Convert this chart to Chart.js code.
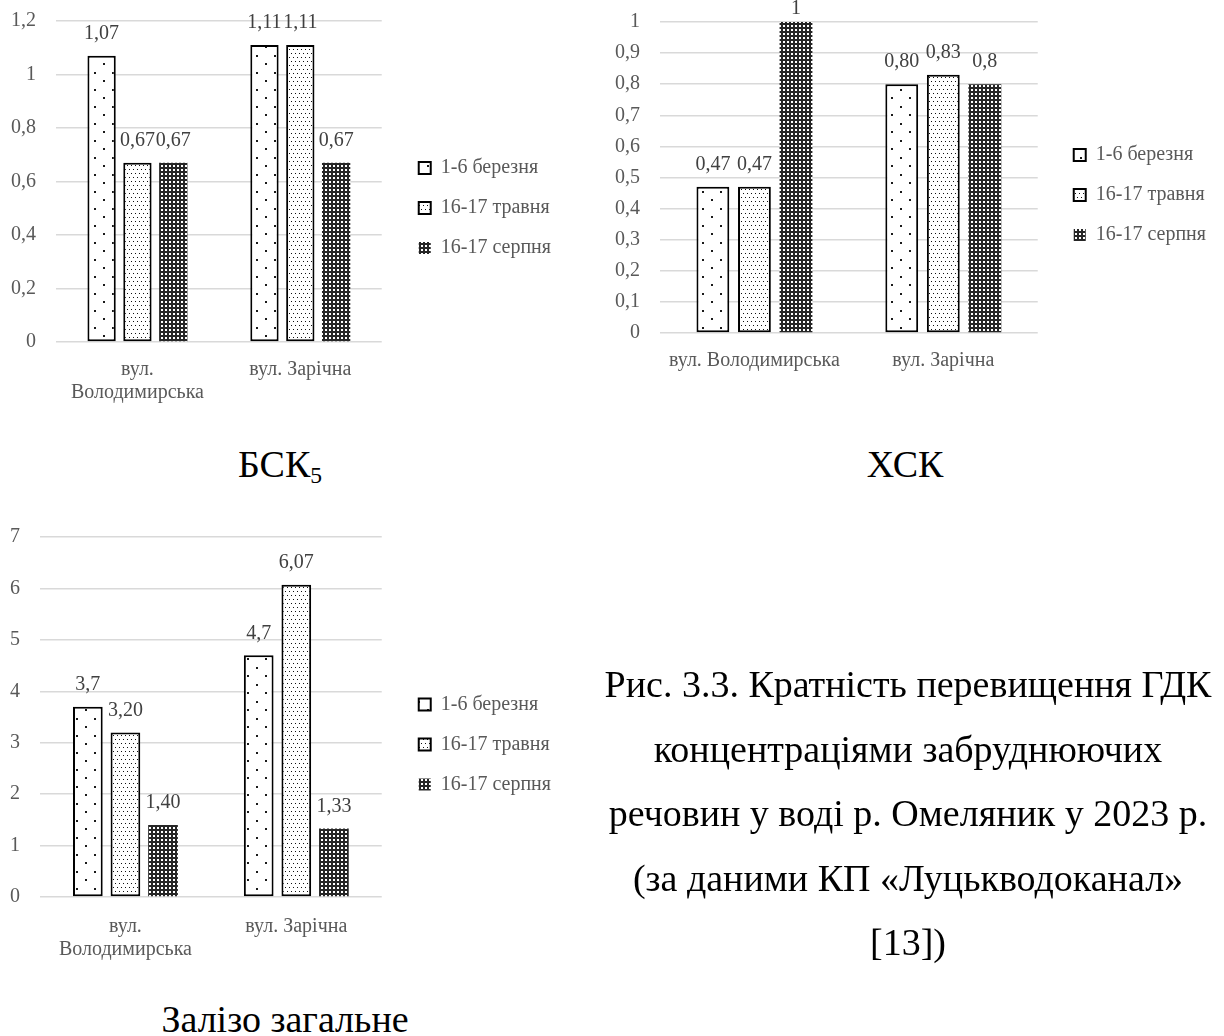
<!DOCTYPE html>
<html lang="uk">
<head>
<meta charset="utf-8">
<title>Кратність перевищення ГДК</title>
<script src="https://cdn.jsdelivr.net/npm/chart.js@4.4.1/dist/chart.umd.min.js"></script>
<style>
  html, body { margin: 0; padding: 0; background: #fff; }
  body { width: 1224px; height: 1036px; position: relative; overflow: hidden;
         font-family: 'Liberation Serif', 'Times New Roman', serif; }
  canvas { position: absolute; }
  .cap { position: absolute; color: #000; font-size: 38px; line-height: 1; white-space: nowrap; text-align: center; }
  .cap sub { font-size: 62%; vertical-align: -0.25em; line-height: 0; }
  #note { line-height: 64.5px; }
</style>
</head>
<body>
<canvas id="bsk" width="580" height="410" style="left:0;top:0"></canvas>
<canvas id="xsk" width="634" height="383" style="left:590px;top:0"></canvas>
<canvas id="iron" width="580" height="457" style="left:0;top:510px"></canvas>

<div class="cap" style="left:180px;top:445px;width:200px">БСК<sub>5</sub></div>
<div class="cap" style="left:805px;top:445px;width:200px">ХСК</div>
<div class="cap" style="left:135px;top:1000px;width:300px">Залізо загальне</div>
<div class="cap" id="note" style="left:568px;top:652px;width:680px">Рис. 3.3. Кратність перевищення ГДК<br>концентраціями забруднюючих<br>речовин у воді р. Омеляник у 2023 р.<br>(за даними КП «Луцькводоканал»<br>[13])</div>

<script>
// categories and series
var streets = [['вул.', 'Володимирська'], 'вул. Зарічна'];
var streetsOneLine = ['вул. Володимирська', 'вул. Зарічна'];
var seriesNames = ['1-6 березня', '16-17 травня', '16-17 серпня'];

// БСК5
var bskMarch = [1.07, 1.11];
var bskMay = [0.67, 1.11];
var bskAug = [0.67, 0.67];
var bskText = [['1,07', '1,11'], ['0,67', '1,11'], ['0,67', '0,67']];

// ХСК
var xskMarch = [0.47, 0.80];
var xskMay = [0.47, 0.83];
var xskAug = [1, 0.8];
var xskText = [['0,47', '0,80'], ['0,47', '0,83'], ['1', '0,8']];

// Залізо загальне
var ironMarch = [3.7, 4.7];
var ironMay = [3.2, 6.07];
var ironAug = [1.4, 1.33];
var ironText = [['3,7', '4,7'], ['3,20', '6,07'], ['1,40', '1,33']];

var serif = "'Liberation Serif', 'Times New Roman', serif";
Chart.defaults.font.family = serif;
Chart.defaults.font.size = 20;
Chart.defaults.color = '#595959';

// little tiles for the Excel-like fill patterns
function tile(w, h, paint) {
  var c = document.createElement('canvas');
  c.width = w;
  c.height = h;
  var ctx = c.getContext('2d');
  paint(ctx, w, h);
  return ctx.createPattern(c, 'repeat');
}

var fills = [
  tile(18, 17, function (ctx, w, h) {
    ctx.fillStyle = '#fff';
    ctx.fillRect(0, 0, w, h);
    ctx.fillStyle = '#1a1a1a';
    ctx.fillRect(4, 4, 2, 2);
    ctx.fillRect(13, 12, 2, 2);
  }),
  tile(4, 8, function (ctx, w, h) {
    ctx.fillStyle = '#fff';
    ctx.fillRect(0, 0, w, h);
    ctx.fillStyle = '#111';
    ctx.fillRect(1, 1, 1, 1);
    ctx.fillRect(3, 5, 1, 1);
  }),
  tile(4, 4, function (ctx, w, h) {
    ctx.fillStyle = '#262626';
    ctx.fillRect(0, 0, w, h);
    ctx.fillStyle = '#fff';
    ctx.fillRect(1, 1, 2, 2);
  })
];

function fmt(v) {
  return String(Math.round(v * 100) / 100).replace('.', ',');
}

// legend box width as chart.js computes it (padding + box + gap + text + 10)
var measure = document.createElement('canvas').getContext('2d');
measure.font = '20px ' + serif;
var longest = Math.max.apply(null, seriesNames.map(function (s) { return measure.measureText(s).width; }));
var legendWidth = Math.ceil(20 + 12 + 10 + longest + 10);

// numbers above the bars
var valueLabels = {
  id: 'valueLabels',
  afterDatasetsDraw: function (chart) {
    var ctx = chart.ctx;
    ctx.save();
    ctx.font = '20px ' + serif;
    ctx.fillStyle = '#404040';
    ctx.textAlign = 'center';
    ctx.textBaseline = 'middle';
    chart.data.datasets.forEach(function (ds, i) {
      chart.getDatasetMeta(i).data.forEach(function (bar, j) {
        ctx.fillText(ds.valueText[j], bar.x, Math.max(bar.y - 22, 9));
      });
    });
    ctx.restore();
  }
};

function drawChart(id, cfg) {
  var canvas = document.getElementById(id);
  var titleH = 2 * cfg.legendMid - cfg.top - cfg.bottom;
  return new Chart(canvas, {
    type: 'bar',
    data: {
      labels: cfg.labels,
      datasets: cfg.values.map(function (vals, i) {
        return {
          label: seriesNames[i],
          data: vals,
          valueText: cfg.text[i],
          yAxisID: 'y',
          backgroundColor: fills[i],
          borderColor: '#000',
          borderWidth: i < 2 ? 2 : 0,
          borderSkipped: false,
          categoryPercentage: 0.66,
          barPercentage: 0.79
        };
      })
    },
    options: {
      responsive: false,
      animation: false,
      layout: {
        padding: {
          top: cfg.top,
          right: canvas.width - cfg.plotRight - cfg.gap - legendWidth,
          bottom: 0,
          left: 0
        }
      },
      plugins: {
        legend: {
          position: 'right',
          fullSize: false,
          maxWidth: legendWidth,
          title: { display: true, text: '', font: { size: 20, lineHeight: 1 }, padding: { top: 0, bottom: titleH - 20 } },
          labels: { boxWidth: 12, boxHeight: 12, padding: 20, color: '#595959', font: { size: 20 } }
        },
        tooltip: { enabled: false }
      },
      scales: {
        x: {
          grid: { display: false, drawTicks: false },
          border: { display: false },
          ticks: { padding: cfg.xPad, maxRotation: 0, autoSkip: false, font: { size: 20, lineHeight: 1.15 } },
          afterFit: function (s) { s.height = canvas.height - cfg.bottom; }
        },
        y: {
          min: 0,
          max: cfg.max,
          grid: { color: '#d9d9d9', lineWidth: 1.5, drawTicks: true, tickLength: 20, tickColor: 'rgba(0,0,0,0)' },
          border: { display: false },
          ticks: { stepSize: cfg.step, padding: 0, callback: function (v) { return fmt(v); } },
          afterFit: function (s) { s.width = cfg.yWidth; }
        },
        gap: {
          type: 'linear',
          position: 'right',
          grid: { display: false, drawTicks: false },
          border: { display: false },
          ticks: { display: false },
          afterFit: function (s) { s.width = cfg.gap; }
        }
      }
    },
    plugins: [valueLabels]
  });
}

drawChart('bsk', {
  labels: streets,
  values: [bskMarch, bskMay, bskAug],
  text: bskText,
  max: 1.2, step: 0.2,
  top: 21, bottom: 342, plotRight: 381, legendMid: 208,
  yWidth: 56, gap: 17, xPad: 16
});

drawChart('xsk', {
  labels: streetsOneLine,
  values: [xskMarch, xskMay, xskAug],
  text: xskText,
  max: 1, step: 0.1,
  top: 22, bottom: 333, plotRight: 447, legendMid: 195,
  yWidth: 70, gap: 16, xPad: 16
});

drawChart('iron', {
  labels: streets,
  values: [ironMarch, ironMay, ironAug],
  text: ironText,
  max: 7, step: 1,
  top: 27, bottom: 387, plotRight: 381, legendMid: 234.5,
  yWidth: 40, gap: 17, xPad: 18
});
</script>
</body>
</html>
